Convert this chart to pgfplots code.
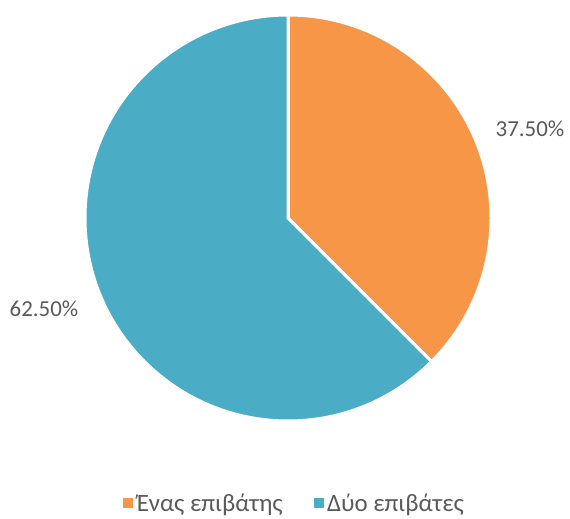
\documentclass[border=0pt]{standalone}
\usepackage{pgfplots}
\pgfplotsset{compat=1.18}
\usepackage{pgfplotstable}
\usepackage{fontspec}
\setmainfont{Carlito}
\definecolor{sliceA}{HTML}{F79646}
\definecolor{sliceB}{HTML}{4BACC6}
\definecolor{txt}{HTML}{595959}

% share of passengers per trip
\pgfplotstableread{
label value
A 37.5
B 62.5
}\piedata

\begin{document}
\begin{tikzpicture}
\pgfplotstablegetelem{0}{value}\of\piedata \let\va\pgfplotsretval
\pgfplotstablegetelem{1}{value}\of\piedata \let\vb\pgfplotsretval
\begin{axis}[
  scale only axis,
  width=570bp, height=518bp,
  xmin=0, xmax=570, ymin=0, ymax=518,
  hide axis, clip=false,
  /pgf/number format/assume math mode=true,
  font=\fontsize{23}{27}\selectfont,
  legend columns=2,
  legend style={draw=none, fill=none, text=txt,
    font=\fontsize{25}{29}\selectfont,
    at={(0.516,0.029)}, anchor=center,
    /tikz/every even column/.append style={column sep=30bp},
    nodes={inner sep=1bp}},
]
\path (axis cs:0,0) rectangle (axis cs:570,518);
\pgfmathsetmacro\ea{90-3.6*\va}
\pgfmathsetmacro\eb{\ea-3.6*\vb}
\filldraw[fill=sliceA, draw=white, line width=3bp]
  (axis cs:288,300) -- ++(90:203bp) arc[start angle=90, end angle=\ea, radius=203bp] -- cycle;
\filldraw[fill=sliceB, draw=white, line width=3bp]
  (axis cs:288,300) -- ++(\ea:203bp) arc[start angle=\ea, end angle=\eb, radius=203bp] -- cycle;
\node[text=txt] at (axis cs:530,389) {\pgfmathprintnumber[fixed, fixed zerofill, precision=2]{\va}\%};
\node[text=txt] at (axis cs:44,209) {\pgfmathprintnumber[fixed, fixed zerofill, precision=2]{\vb}\%};
\addlegendimage{legend image code/.code={\fill[sliceA] (0bp,-4.5bp) rectangle (9bp,4.5bp);}}
\addlegendentry{\hspace{3bp}Ένας επιβάτης}
\addlegendimage{legend image code/.code={\fill[sliceB] (0bp,-4.5bp) rectangle (9bp,4.5bp);}}
\addlegendentry{\hspace{3bp}Δύο επιβάτες}
\end{axis}
\end{tikzpicture}
\end{document}
